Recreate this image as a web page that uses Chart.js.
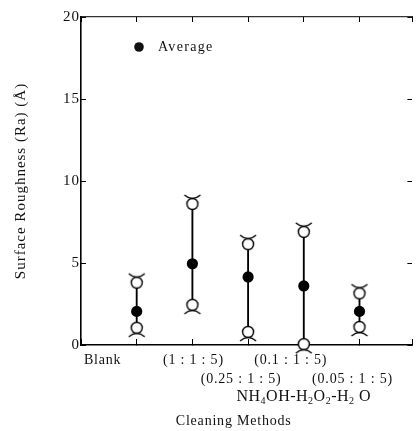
<!DOCTYPE html>
<html>
<head>
<meta charset="utf-8">
<script src="https://cdn.jsdelivr.net/npm/chart.js@4.4.0/dist/chart.umd.min.js"></script>
<style>
    html, body { margin: 0; padding: 0; background: #fff; }
</style>
</head>
<body>
<canvas id="roughnessChart" width="418" height="431"></canvas>
<script>
// values (Ra in angstrom)
const methods = ['Blank', '(1 : 1 : 5)', '(0.25 : 1 : 5)', '(0.1 : 1 : 5)', '(0.05 : 1 : 5)'];
const methodPos = [1, 2, 3, 4, 5];
const maxRa = [3.8, 8.6, 6.15, 6.9, 3.15];
const avgRa = [2.05, 4.95, 4.15, 3.6, 2.05];
const minRa = [1.05, 2.45, 0.8, 0.05, 1.1];
const yTicks = [0, 5, 10, 15, 20];
const legendLabel = 'Average';
const groupLabel = [['NH', 0], ['4', 1], ['OH-H', 0], ['2', 1], ['O', 0], ['2', 1], ['-H', 0], ['2', 1], [' O', 0]];
const xTitle = 'Cleaning Methods';
const yTitle = 'Surface Roughness (Ra) (Å)';

const serif = '"Liberation Serif", "DejaVu Serif", serif';
Chart.defaults.color = '#111';

// open circle with the little bracket cap (above for max, below for min)
function makeMarker(capAbove) {
    const r = 5.5, w = 20, h = 26;
    const c = document.createElement('canvas');
    c.width = w;
    c.height = h;
    const g = c.getContext('2d');
    const cx = w / 2, cy = h / 2;
    g.lineWidth = 1.4;
    g.strokeStyle = '#000';
    g.fillStyle = '#fff';
    g.beginPath();
    g.arc(cx, cy, r, 0, Math.PI * 2);
    g.fill();
    g.stroke();
    const edge = capAbove ? cy - r : cy + r;
    const d = capAbove ? -1 : 1;
    g.beginPath();
    g.moveTo(cx - 8, edge + d * 3.5);
    g.quadraticCurveTo(cx, edge - d * 3.5, cx + 8, edge + d * 3.5);
    g.stroke();
    return c;
}

const labelShift = [-34, 1, -7, -13, -7];
const labelRow = [0, 0, 1, 0, 1];

const textPlugin = {
    id: 'textPlugin',
    beforeDraw(chart) {
        chart.ctx.letterSpacing = '1px';
    },
    afterDraw(chart) {
        const ctx = chart.ctx;
        const xs = chart.scales.x;
        const area = chart.chartArea;
        ctx.save();
        ctx.fillStyle = '#111';
        ctx.textBaseline = 'middle';

        // legend
        ctx.beginPath();
        ctx.arc(area.left + 58, area.top + 30, 4.8, 0, Math.PI * 2);
        ctx.fill();
        ctx.font = '14px ' + serif;
        ctx.letterSpacing = '1.3px';
        ctx.textAlign = 'left';
        ctx.fillText(legendLabel, area.left + 77, area.top + 30);

        // method labels, staggered in two rows
        ctx.font = '14px ' + serif;
        ctx.letterSpacing = '0.8px';
        ctx.textAlign = 'center';
        methods.forEach((m, i) => {
            const x = xs.getPixelForValue(methodPos[i]) + labelShift[i];
            const y = area.bottom + 15 + labelRow[i] * 19;
            ctx.fillText(m, x, y);
        });

        // NH4OH-H2O2-H2O with subscripts
        const bigFont = '16px ' + serif;
        const subFont = '10px ' + serif;
        ctx.letterSpacing = '0.5px';
        let total = 0;
        groupLabel.forEach(([t, sub]) => {
            ctx.font = sub ? subFont : bigFont;
            total += ctx.measureText(t).width;
        });
        let gx = xs.getPixelForValue(4) - total / 2;
        const gy = area.bottom + 52;
        ctx.textAlign = 'left';
        groupLabel.forEach(([t, sub]) => {
            ctx.font = sub ? subFont : bigFont;
            ctx.fillText(t, gx, sub ? gy + 4 : gy);
            gx += ctx.measureText(t).width;
        });

        // x title
        ctx.font = '14px ' + serif;
        ctx.letterSpacing = '0.8px';
        ctx.textAlign = 'center';
        ctx.fillText(xTitle, (area.left + area.right) / 2 - 13, area.bottom + 76);
        ctx.restore();
    }
};

const innerGrid = {
    drawOnChartArea: false,
    drawTicks: true,
    tickLength: -5,
    color: '#000',
    lineWidth: 1,
    offset: false
};

const ctx = document.getElementById('roughnessChart').getContext('2d');
const roughnessChart = new Chart(ctx, {
    type: 'scatter',
    data: {
        datasets: [
            {
                type: 'bar',
                label: 'range',
                data: methodPos.map((x, i) => ({ x: x, y: [minRa[i], maxRa[i]] })),
                backgroundColor: '#000',
                borderWidth: 0,
                barThickness: 1.2,
                order: 3
            },
            {
                label: 'max',
                data: methodPos.map((x, i) => ({ x: x, y: maxRa[i] })),
                pointStyle: makeMarker(true),
                clip: false,
                order: 2
            },
            {
                label: 'min',
                data: methodPos.map((x, i) => ({ x: x, y: minRa[i] })),
                pointStyle: makeMarker(false),
                clip: false,
                order: 2
            },
            {
                label: legendLabel,
                data: methodPos.map((x, i) => ({ x: x, y: avgRa[i] })),
                pointStyle: 'circle',
                pointRadius: 5.6,
                backgroundColor: '#000',
                borderWidth: 0,
                clip: false,
                order: 1
            }
        ]
    },
    options: {
        responsive: false,
        animation: false,
        layout: {
            padding: { top: 17, bottom: 86, left: 0, right: 1 }
        },
        plugins: {
            legend: { display: false },
            tooltip: { enabled: false }
        },
        scales: {
            x: {
                type: 'linear',
                position: 'bottom',
                min: 0,
                max: 5.95,
                offset: false,
                ticks: { display: false, stepSize: 1 },
                grid: Object.assign({}, innerGrid, { tickLength: -6 }),
                border: { display: true, color: '#000', width: 1.5 },
                afterFit: (s) => { s.height = 0; }
            },
            x2: {
                type: 'linear',
                position: 'top',
                min: 0,
                max: 5.95,
                offset: false,
                ticks: { display: false, stepSize: 1 },
                grid: innerGrid,
                border: { display: true, color: '#333', width: 1.2 },
                afterFit: (s) => { s.height = 0; }
            },
            y: {
                type: 'linear',
                position: 'left',
                min: yTicks[0],
                max: yTicks[yTicks.length - 1],
                afterBuildTicks: (s) => { s.ticks = yTicks.map(v => ({ value: v })); },
                ticks: {
                    padding: 6,
                    color: '#111',
                    font: { family: serif, size: 15 }
                },
                grid: innerGrid,
                border: { display: true, color: '#000', width: 1.6 },
                title: {
                    display: true,
                    text: yTitle,
                    color: '#111',
                    font: { family: serif, size: 15 },
                    padding: { top: 12, bottom: 0 }
                },
                afterFit: (s) => { s.width = 81; }
            },
            y2: {
                type: 'linear',
                position: 'right',
                min: yTicks[0],
                max: yTicks[yTicks.length - 1],
                afterBuildTicks: (s) => { s.ticks = yTicks.map(v => ({ value: v })); },
                ticks: { display: false },
                grid: innerGrid,
                border: { display: false },
                afterFit: (s) => { s.width = 0; }
            }
        }
    },
    plugins: [textPlugin]
});
</script>
</body>
</html>
